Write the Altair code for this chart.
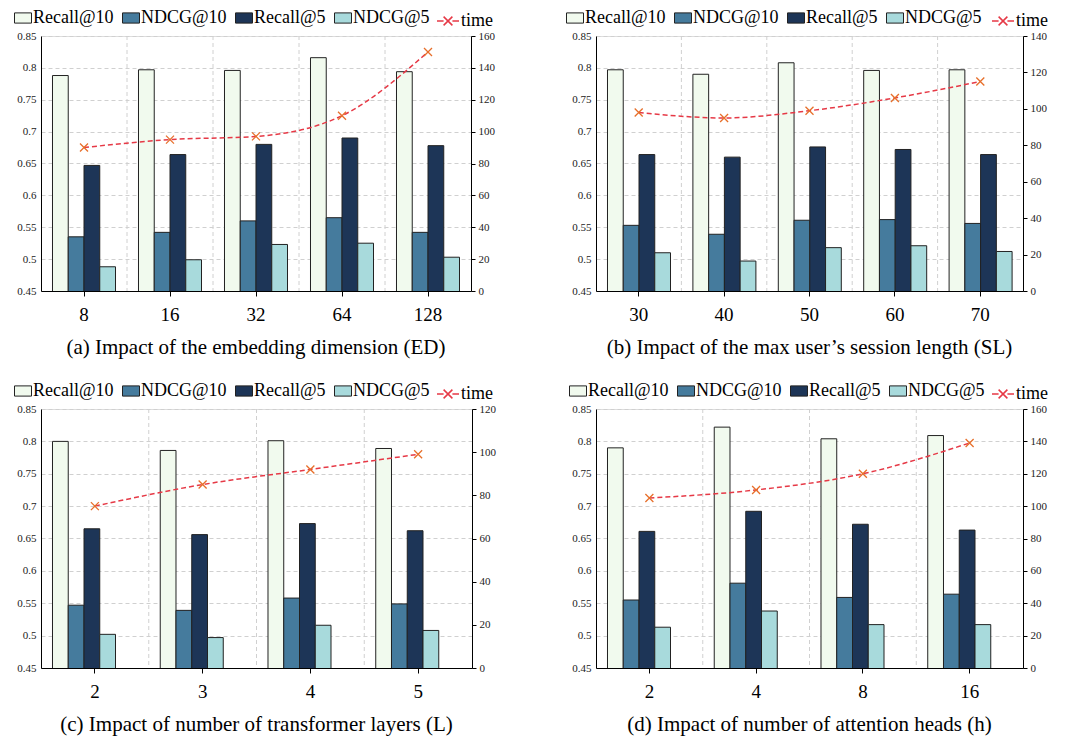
import altair as alt
import pandas as pd

METRICS = ["Recall@10", "NDCG@10", "Recall@5", "NDCG@5"]
BAR_COLORS = ["#f1faee", "#457b9d", "#1d3557", "#a8dadc"]
LINE_COLOR = "#e63946"
MARK_COLOR = "#e76f2a"
Y_TICKS = [0.45, 0.5, 0.55, 0.6, 0.65, 0.7, 0.75, 0.8, 0.85]

# (a) embedding dimension
ed_cats = ["8", "16", "32", "64", "128"]
ed_recall10 = [0.788, 0.797, 0.796, 0.816, 0.794]
ed_ndcg10 = [0.535, 0.542, 0.560, 0.565, 0.542]
ed_recall5 = [0.647, 0.664, 0.680, 0.690, 0.678]
ed_ndcg5 = [0.488, 0.499, 0.523, 0.525, 0.503]
ed_time = [90, 95, 97, 110, 150]
ed_time_ticks = [0, 20, 40, 60, 80, 100, 120, 140, 160]

# (b) session length
sl_cats = ["30", "40", "50", "60", "70"]
sl_recall10 = [0.797, 0.790, 0.808, 0.796, 0.797]
sl_ndcg10 = [0.553, 0.539, 0.561, 0.562, 0.556]
sl_recall5 = [0.664, 0.660, 0.676, 0.672, 0.664]
sl_ndcg5 = [0.510, 0.497, 0.518, 0.521, 0.512]
sl_time = [98, 95, 99, 106, 115]
sl_time_ticks = [0, 20, 40, 60, 80, 100, 120, 140]

# (c) transformer layers
l_cats = ["2", "3", "4", "5"]
l_recall10 = [0.800, 0.786, 0.801, 0.789]
l_ndcg10 = [0.547, 0.539, 0.558, 0.549]
l_recall5 = [0.665, 0.656, 0.673, 0.662]
l_ndcg5 = [0.502, 0.497, 0.516, 0.508]
l_time = [75, 85, 92, 99]
l_time_ticks = [0, 20, 40, 60, 80, 100, 120]

# (d) attention heads
h_cats = ["2", "4", "8", "16"]
h_recall10 = [0.790, 0.822, 0.804, 0.809]
h_ndcg10 = [0.555, 0.581, 0.559, 0.564]
h_recall5 = [0.661, 0.692, 0.672, 0.663]
h_ndcg5 = [0.513, 0.538, 0.517, 0.517]
h_time = [105, 110, 120, 139]
h_time_ticks = [0, 20, 40, 60, 80, 100, 120, 140, 160]

CAPTIONS = [
    "(a)  Impact of the embedding dimension (ED)",
    "(b)  Impact of the max user\u2019s session length (SL)",
    "(c)  Impact of number of transformer layers (L)",
    "(d)  Impact of number of attention heads (h)",
]

FONT = "Liberation Serif"
GRID = "#d0d0d0"
LEG_Y = -27


def panel(cats, r10, n10, r5, n5, time, tticks, caption, w, h, lx):
    rows = []
    for i, c in enumerate(cats):
        for m, vals in zip(METRICS, [r10, n10, r5, n5]):
            rows.append({"cat": c, "metric": m, "value": vals[i]})
    bars_df = pd.DataFrame(rows)
    time_df = pd.DataFrame({"cat": cats, "time": time, "series": ["time"] * len(cats)})
    grid_df = pd.DataFrame({"cat": cats[1:]})

    xscale = alt.Scale(domain=cats, paddingInner=0, paddingOuter=0)
    xaxis = alt.Axis(title=None, labelFont=FONT, labelFontSize=19, labelAngle=0,
                     labelColor="black", labelPadding=9, tickSize=5, tickColor="black",
                     domainColor="black", grid=False)

    def X(**kw):
        return alt.X("cat:N", scale=xscale, sort=cats, axis=xaxis, **kw)

    vgrid = alt.Chart(grid_df).mark_rule(color=GRID, strokeDash=[4, 3], strokeWidth=1).encode(
        x=X(bandPosition=0)
    )

    bars = alt.Chart(bars_df).mark_bar(stroke="#222", strokeWidth=1, clip=True).encode(
        x=X(),
        xOffset=alt.XOffset("metric:N", sort=METRICS,
                            scale=alt.Scale(domain=METRICS, paddingInner=0, paddingOuter=0.73)),
        y=alt.Y("value:Q",
                scale=alt.Scale(domain=[Y_TICKS[0], Y_TICKS[-1]], zero=False, nice=False),
                axis=alt.Axis(title=None, values=Y_TICKS, format=".2~f", labelFont=FONT,
                              labelFontSize=11, labelColor="#222", tickSize=0,
                              domainColor="black", gridColor=GRID, gridDash=[4, 3],
                              labelPadding=5)),
        color=alt.Color("metric:N", sort=METRICS,
                        scale=alt.Scale(domain=METRICS, range=BAR_COLORS),
                        legend=alt.Legend(title=None, orient="none", legendX=lx, legendY=LEG_Y,
                                          direction="horizontal",
                                          symbolType="M-1,-0.6H1V0.6H-1Z", symbolSize=289,
                                          symbolStrokeColor="#222", symbolStrokeWidth=1,
                                          labelFont=FONT, labelFontSize=18, labelColor="black",
                                          labelOffset=1, columnPadding=6, labelLimit=200)),
    )

    tscale = alt.Scale(domain=[tticks[0], tticks[-1]], nice=False, zero=True)
    line = alt.Chart(time_df).mark_line(strokeDash=[5, 3], strokeWidth=1.5,
                                        interpolate="monotone").encode(
        x=X(),
        y=alt.Y("time:Q", scale=tscale,
                axis=alt.Axis(orient="right", title=None, values=tticks, labelFont=FONT,
                              labelFontSize=11, labelColor="#222", tickSize=4,
                              tickColor="black", domainColor="black", grid=False,
                              labelPadding=3)),
        stroke=alt.Stroke("series:N", scale=alt.Scale(domain=["time"], range=[LINE_COLOR]),
                          legend=alt.Legend(title=None, orient="none", legendX=395, legendY=LEG_Y,
                                            symbolType="M-1,0L-0.4,0M0.4,0L1,0M-0.4,-0.4L0.4,0.4M-0.4,0.4L0.4,-0.4",
                                            symbolSize=484, symbolStrokeWidth=1.5,
                                            labelFont=FONT, labelFontSize=18,
                                            labelColor="black", labelOffset=1)),
    )
    pts = alt.Chart(time_df).mark_point(shape="M-1,-1L1,1M-1,1L1,-1", filled=False, size=64,
                                        strokeWidth=1.3, color=MARK_COLOR, opacity=1).encode(
        x=X(),
        y=alt.Y("time:Q", scale=tscale, axis=None),
    )

    return alt.layer(vgrid, bars, line, pts).resolve_scale(y="independent").properties(
        width=w, height=h,
        title=alt.TitleParams(caption, orient="bottom", font=FONT, fontSize=21,
                              fontWeight="normal", offset=13, anchor="middle", color="black"),
    )


pa = panel(ed_cats, ed_recall10, ed_ndcg10, ed_recall5, ed_ndcg5, ed_time, ed_time_ticks,
           CAPTIONS[0], 430, 255, -27)
pb = panel(sl_cats, sl_recall10, sl_ndcg10, sl_recall5, sl_ndcg5, sl_time, sl_time_ticks,
           CAPTIONS[1], 427, 255, -30)
pc = panel(l_cats, l_recall10, l_ndcg10, l_recall5, l_ndcg5, l_time, l_time_ticks,
           CAPTIONS[2], 431, 259, -27)
pd_ = panel(h_cats, h_recall10, h_ndcg10, h_recall5, h_ndcg5, h_time, h_time_ticks,
            CAPTIONS[3], 427, 259, -27)

res = dict(color="independent", stroke="independent")
top = alt.hconcat(pa, pb, spacing=70).resolve_scale(**res).resolve_legend(**res)
bottom = alt.hconcat(pc, pd_, spacing=72).resolve_scale(**res).resolve_legend(**res)
chart = alt.vconcat(top, bottom, spacing=22).resolve_scale(**res).resolve_legend(**res).properties(
    padding={"left": 5, "top": 0, "right": 5, "bottom": 5}
).configure_view(stroke="#555").configure(background="white", font=FONT)

chart.save("out.html", embed_options={"renderer": "svg", "actions": False})
